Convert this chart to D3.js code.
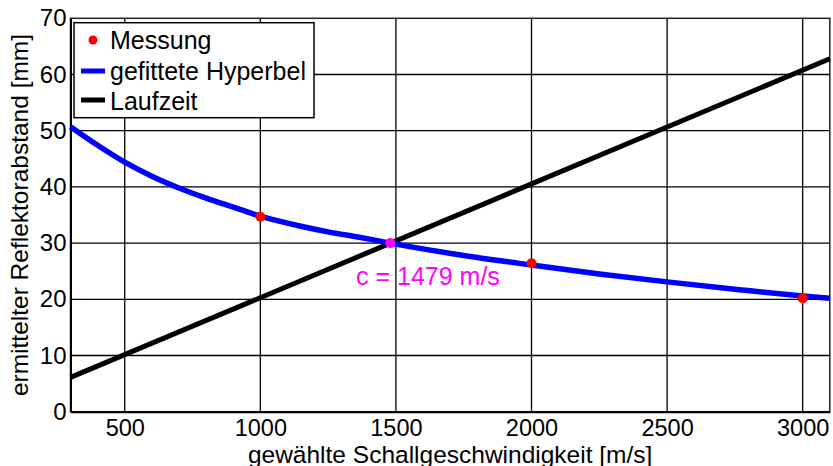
<!DOCTYPE html>
<html>
<head>
<meta charset="utf-8">
<script src="https://cdn.jsdelivr.net/npm/d3@7"></script>
<style>
	body { margin: 0; background: #fff; }
	svg text { font-family: "Liberation Sans", Arial, sans-serif; fill: #000; }
</style>
</head>
<body>
<div id="chart"></div>
<script>
// Messpunkte
var messX = [1000, 2000, 3000];
var messY = [34.7, 26.4, 20.2];

// gefittete Hyperbel
var fitX = [300, 400, 500, 600, 700, 800, 900, 1000, 1150, 1250, 1370, 1479, 1750, 2000, 2250, 2500, 2750, 3000, 3100];
var fitY = [50.7, 47.4, 44.4, 41.9, 39.8, 38.0, 36.4, 34.8, 33.0, 32.0, 31.0, 30.0, 27.8, 26.1, 24.5, 23.1, 21.8, 20.6, 20.2];

// Laufzeit-Gerade
var laufX = [300, 3100];
var laufY = [6.1, 62.8];

// Schnittpunkt
var schnittX = [1479];
var schnittY = [30.0];
var schnittLabel = 'c = 1479 m/s';

// Achsen
var xTicks = [500, 1000, 1500, 2000, 2500, 3000];
var yTicks = [0, 10, 20, 30, 40, 50, 60, 70];
var xLabel = 'gewählte Schallgeschwindigkeit [m/s]';
var yLabel = 'ermittelter Reflektorabstand [mm]';
var legendLabels = ['Messung', 'gefittete Hyperbel', 'Laufzeit'];

var width = 833, height = 466;

var x = d3.scaleLinear().domain([300, 3100]).range([70.5, 829.8]);
var y = d3.scaleLinear().domain([0, 70]).range([411.7, 18.3]);

var svg = d3.select('#chart').append('svg')
	.attr('width', width)
	.attr('height', height);

// grid lines
svg.append('g')
	.selectAll('line')
	.data(xTicks)
	.enter().append('line')
	.attr('x1', function (d) { return x(d); })
	.attr('x2', function (d) { return x(d); })
	.attr('y1', y(0))
	.attr('y2', y(70))
	.attr('stroke', '#000')
	.attr('stroke-width', 1.3);

svg.append('g')
	.selectAll('line')
	.data(yTicks.slice(1, -1))
	.enter().append('line')
	.attr('x1', x(300))
	.attr('x2', x(3100))
	.attr('y1', function (d) { return y(d); })
	.attr('y2', function (d) { return y(d); })
	.attr('stroke', '#000')
	.attr('stroke-width', 1.3);

// frame
svg.append('rect')
	.attr('x', x(300))
	.attr('y', y(70))
	.attr('width', x(3100) - x(300))
	.attr('height', y(0) - y(70))
	.attr('fill', 'none')
	.attr('stroke', '#222')
	.attr('stroke-width', 1.5);

// axes
var xAxis = d3.axisBottom(x).tickValues(xTicks).tickFormat(d3.format('d'))
	.tickSize(0).tickPadding(8);
var gX = svg.append('g')
	.attr('transform', 'translate(0,' + y(0) + ')')
	.call(xAxis);
gX.select('.domain').attr('stroke', '#000').attr('stroke-width', 2);
gX.selectAll('text').style('font-size', '23.5px');

var yAxis = d3.axisLeft(y).tickValues(yTicks).tickFormat(d3.format('d'))
	.tickSize(0).tickPadding(4);
var gY = svg.append('g')
	.attr('transform', 'translate(' + x(300) + ',0)')
	.call(yAxis);
gY.select('.domain').attr('stroke', '#000').attr('stroke-width', 2);
gY.selectAll('text').style('font-size', '24px');

// axis labels
svg.append('text')
	.attr('x', (x(300) + x(3100)) / 2)
	.attr('y', 462.5)
	.attr('text-anchor', 'middle')
	.style('font-size', '24.5px')
	.text(xLabel);

svg.append('text')
	.attr('transform', 'translate(28,' + ((y(0) + y(70)) / 2) + ') rotate(-90)')
	.attr('text-anchor', 'middle')
	.style('font-size', '24.5px')
	.text(yLabel);

// Laufzeit
var line = d3.line()
	.x(function (d) { return x(d[0]); })
	.y(function (d) { return y(d[1]); });

svg.append('path')
	.attr('d', line(d3.zip(laufX, laufY)))
	.attr('fill', 'none')
	.attr('stroke', '#000')
	.attr('stroke-width', 5);

// Hyperbel
svg.append('path')
	.attr('d', line.curve(d3.curveMonotoneX)(d3.zip(fitX, fitY)))
	.attr('fill', 'none')
	.attr('stroke', '#0000ff')
	.attr('stroke-width', 5.5);

// Messung
svg.append('g')
	.selectAll('circle')
	.data(d3.zip(messX, messY))
	.enter().append('circle')
	.attr('cx', function (d) { return x(d[0]); })
	.attr('cy', function (d) { return y(d[1]); })
	.attr('r', 5)
	.attr('fill', '#ff0000');

// Schnittpunkt
svg.append('circle')
	.attr('cx', x(schnittX[0]))
	.attr('cy', y(schnittY[0]))
	.attr('r', 5)
	.attr('fill', '#ff00ff');

svg.append('text')
	.attr('x', 356)
	.attr('y', 285)
	.style('font-size', '25px')
	.style('fill', '#ff00ff')
	.text(schnittLabel);

// legend
var legend = svg.append('g');
legend.append('rect')
	.attr('x', 74)
	.attr('y', 22.7)
	.attr('width', 240)
	.attr('height', 95)
	.attr('fill', '#fff')
	.attr('stroke', '#000')
	.attr('stroke-width', 1.5);

var legendMarkY = [40, 71, 100];
var legendTextY = [49.3, 80, 110];
legend.append('circle')
	.attr('cx', 93)
	.attr('cy', legendMarkY[0])
	.attr('r', 4.5)
	.attr('fill', '#ff0000');
legend.append('line')
	.attr('x1', 81).attr('x2', 105)
	.attr('y1', legendMarkY[1]).attr('y2', legendMarkY[1])
	.attr('stroke', '#0000ff')
	.attr('stroke-width', 5);
legend.append('line')
	.attr('x1', 81).attr('x2', 105)
	.attr('y1', legendMarkY[2]).attr('y2', legendMarkY[2])
	.attr('stroke', '#000')
	.attr('stroke-width', 5);

legend.selectAll('text')
	.data(legendLabels)
	.enter().append('text')
	.attr('x', 110)
	.attr('y', function (d, i) { return legendTextY[i]; })
	.style('font-size', '25px')
	.text(function (d) { return d; });
</script>
</body>
</html>
